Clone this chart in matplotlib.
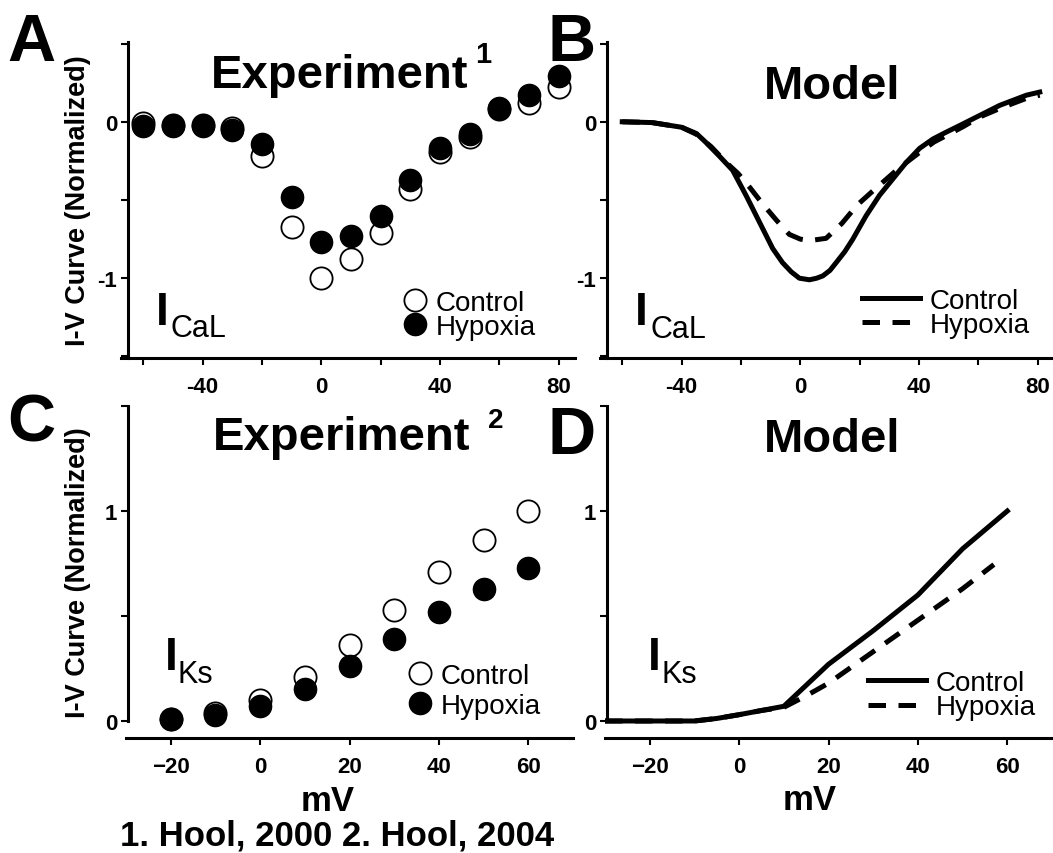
import matplotlib
matplotlib.use('Agg')
import matplotlib.pyplot as plt

plt.rcParams['font.family'] = ['Liberation Sans', 'DejaVu Sans']

# ---- data ----
# panel A: experiment, I_CaL
mv_a = [-60, -50, -40, -30, -20, -10, 0, 10, 20, 30, 40, 50, 60, 70, 80]
ctrl_a = [-0.01, -0.02, -0.02, -0.04, -0.22, -0.67, -1.0, -0.88, -0.71, -0.43, -0.19, -0.10, 0.08, 0.12, 0.22]
hyp_a = [-0.03, -0.03, -0.03, -0.05, -0.14, -0.48, -0.77, -0.73, -0.60, -0.37, -0.17, -0.08, 0.09, 0.17, 0.29]

# panel B: model, I_CaL
mv_b_ctrl = [-60, -50, -40, -35, -31.9, -27.5, -22.8, -18.3, -13.8, -9.3, -6, -3, -0.3, 3.1, 5.5, 7.6, 10,
             12.1, 15, 17.7, 22.2, 26.7, 31.2, 35.7, 40.2, 44.7, 49.2, 53.7, 60.4, 67.2, 76.2, 80.7]
ctrl_b = [0, -0.005, -0.035, -0.075, -0.13, -0.215, -0.31, -0.47, -0.64, -0.81, -0.9, -0.96, -1.0, -1.01,
          -1.0, -0.985, -0.95, -0.90, -0.83, -0.75, -0.60, -0.47, -0.365, -0.26, -0.17, -0.11, -0.066,
          -0.024, 0.04, 0.105, 0.17, 0.19]
mv_b_hyp = [-60, -50, -40, -35, -30, -25, -21, -17, -12.7, -8, -3.7, 0, 3, 8.7, 14, 19.3, 24, 28.2, 33,
            39.9, 45, 50, 55, 60.4, 67.2, 76.2, 80.7]
hyp_b = [0, -0.005, -0.035, -0.08, -0.16, -0.26, -0.33, -0.42, -0.525, -0.63, -0.72, -0.75, -0.76, -0.745,
         -0.65, -0.53, -0.45, -0.38, -0.30, -0.2, -0.13, -0.08, -0.03, 0.03, 0.085, 0.15, 0.17]

# panel C: experiment, I_Ks
mv_c = [-20, -10, 0, 10, 20, 30, 40, 50, 60]
ctrl_c = [0.01, 0.04, 0.10, 0.21, 0.36, 0.53, 0.71, 0.86, 1.0]
hyp_c = [0.01, 0.03, 0.07, 0.15, 0.26, 0.39, 0.52, 0.63, 0.73]

# panel D: model, I_Ks
mv_d_ctrl = [-30, -20, -10, -5, 0, 5, 10, 20, 30, 40, 50, 60]
ctrl_d = [0, 0, 0, 0.012, 0.03, 0.05, 0.07, 0.27, 0.43, 0.60, 0.82, 1.0]
mv_d_hyp = [-30, -20, -10, -5, 0, 5, 10, 15, 20, 30, 40, 50, 57]
hyp_d = [0, 0, 0, 0.012, 0.03, 0.05, 0.065, 0.12, 0.18, 0.33, 0.48, 0.63, 0.745]

W, H = 1053, 854
fig = plt.figure(figsize=(W/100, H/100), dpi=100)

def box(l, t, r, b):
    return fig.add_axes([l/W, 1-b/H, (r-l)/W, (b-t)/H])

def ftext(x, y, s, **kw):
    kw.setdefault('va', 'baseline')
    fig.text(x/W, 1-y/H, s, **kw)

def style(ax):
    ax.spines['top'].set_visible(False)
    ax.spines['right'].set_visible(False)
    for sp in ['left', 'bottom']:
        ax.spines[sp].set_linewidth(2.2)
    ax.tick_params(width=1.5, length=5, labelsize=16)
    ax.tick_params(axis='x', pad=8)
    ax.tick_params(axis='y', pad=3)
    for lab in ax.get_xticklabels() + ax.get_yticklabels():
        lab.set_fontweight('bold')

axA = box(121, 43, 575, 359)
axB = box(600, 43, 1054, 359)
axC = box(126, 407, 573, 739)
axD = box(605, 407, 1052, 739)

mk = dict(marker='o', ms=16, ls='none', clip_on=False)
dash = (0, (3.5, 2.5))

# A
axA.plot(mv_a, ctrl_a, mfc='white', mec='black', mew=1.3, label='Control', **mk)
axA.plot(mv_a, hyp_a, mfc='black', mec='black', label='Hypoxia', **mk)
# B
axB.plot(mv_b_hyp, hyp_b, color='black', lw=3.6, ls=dash, label='Hypoxia')
axB.plot(mv_b_ctrl, ctrl_b, color='black', lw=3.6, label='Control')
# C
axC.plot(mv_c, ctrl_c, mfc='white', mec='black', mew=1.3, label='Control', **mk)
axC.plot(mv_c, hyp_c, mfc='black', mec='black', label='Hypoxia', **mk)
# D
axD.plot(mv_d_hyp, hyp_d, color='black', lw=3.6, ls=dash, label='Hypoxia')
axD.plot(mv_d_ctrl, ctrl_d, color='black', lw=3.6, label='Control')

for ax in (axA, axB):
    ax.set_xlim(-67.5, 85.5)
    ax.set_ylim(-1.51, 0.51)
    ax.set_xticks(range(-60, 81, 20))
    ax.set_xticklabels(['', '-40', '', '0', '', '40', '', '80'])
    ax.set_yticks([-1.5, -1, -0.5, 0, 0.5])
    ax.set_yticklabels(['', '-1', '', '0', ''])
    ax.spines['left'].set_position(('data', -65))
    style(ax)

for ax in (axC, axD):
    ax.set_xlim(-30, 70)
    ax.set_ylim(-0.081, 1.5)
    ax.set_xticks([-20, 0, 20, 40, 60])
    ax.set_yticks([0, 0.5, 1, 1.5])
    ax.set_yticklabels(['0', '', '1', ''])
    ax.spines['left'].set_position(('data', -29.5))
    ax.spines['left'].set_bounds(0, 1.5)
    style(ax)

# legends
def leg(ax, x, y, hl, sp):
    h, l = ax.get_legend_handles_labels()
    order = ['Control', 'Hypoxia']
    h = [h[l.index(k)] for k in order]
    ax.legend(h, order, loc='center left', bbox_to_anchor=(x/W, 1-y/H),
              bbox_transform=fig.transFigure, frameon=False, fontsize=20,
              borderpad=0, borderaxespad=0, handlelength=hl,
              handletextpad=0.35, labelspacing=sp, numpoints=1)

leg(axA, 404, 316, 0.8, -0.07)
leg(axB, 862, 314, 2.1, -0.07)
leg(axC, 409, 692, 0.8, 0.13)
leg(axD, 868, 696, 2.1, -0.05)

# panel letters
for s, x, y in [('A', 7, 61), ('B', 548, 61), ('C', 7, 442), ('D', 548, 454)]:
    ftext(x, y, s, fontsize=48, fontweight='bold')

# titles
ftext(340, 88, 'Experiment', fontsize=34, fontweight='bold', ha='center')
ftext(475, 63, '1', fontsize=21, fontweight='bold')
ftext(832, 99, 'Model', fontsize=34, fontweight='bold', ha='center')
ftext(342, 450, 'Experiment', fontsize=34, fontweight='bold', ha='center')
ftext(488, 428, '2', fontsize=20, fontweight='bold')
ftext(832, 452, 'Model', fontsize=34, fontweight='bold', ha='center')

# current labels
for xi, yi, sub, xs, ys in [(156, 325, 'CaL', 171, 337), (635, 325, 'CaL', 650, 338),
                            (165, 670, 'Ks', 177, 683), (648, 670, 'Ks', 662, 683)]:
    ftext(xi, yi, 'I', fontsize=33, fontweight='bold')
    ftext(xs, ys, sub, fontsize=22)

# axis labels
ftext(78, 201, 'I-V Curve (Normalized)', fontsize=19.5, fontweight='bold',
      rotation=90, ha='center', va='center')
ftext(78, 573, 'I-V Curve (Normalized)', fontsize=19.5, fontweight='bold',
      rotation=90, ha='center', va='center')
ftext(328, 811, 'mV', fontsize=25, fontweight='bold', ha='center')
ftext(810, 810, 'mV', fontsize=25, fontweight='bold', ha='center')
ftext(337, 846, '1. Hool, 2000 2. Hool, 2004', fontsize=25, fontweight='bold', ha='center')

fig.savefig('out.png', dpi=100)
